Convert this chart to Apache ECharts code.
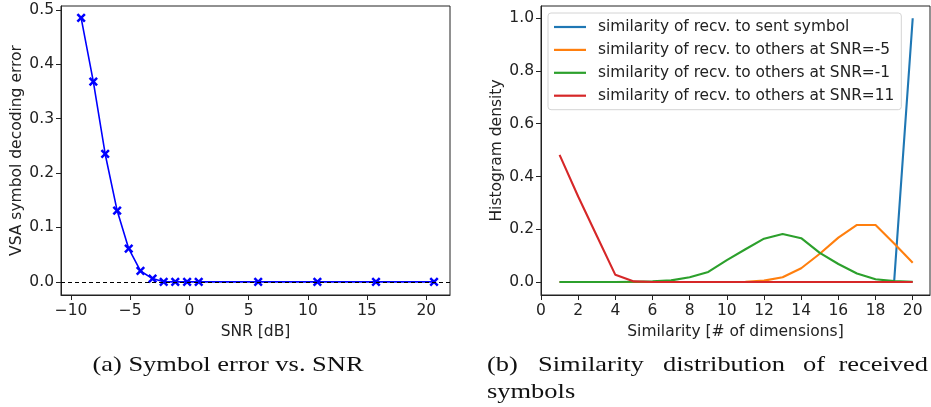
<!DOCTYPE html>
<html>
<head>
<meta charset="utf-8">
<script src="https://cdn.jsdelivr.net/npm/echarts@6/dist/echarts.min.js"></script>
<style>
  html, body { margin: 0; padding: 0; background: #fff; }
  #chart { width: 931px; height: 407px; }
</style>
</head>
<body>
<div id="chart"></div>
<script>
// (a) symbol decoding error against SNR
var snrDb = [-9.15, -8.12, -7.12, -6.11, -5.13, -4.14, -3.12, -2.18, -1.2, -0.2, 0.78, 5.8, 10.8, 15.75, 20.65];
var symbolError = [0.485, 0.368, 0.235, 0.131, 0.061, 0.020, 0.006, 0, 0, 0, 0, 0, 0, 0, 0];
var snrTicks = [-10, -5, 0, 5, 10, 15, 20];
var errorTicks = [0, 0.1, 0.2, 0.3, 0.4, 0.5];

// (b) similarity histograms
var similarityDims = [1, 2, 3, 4, 5, 6, 7, 8, 9, 10, 11, 12, 13, 14, 15, 16, 17, 18, 19, 20];
var sentSymbol = [0, 0, 0, 0, 0, 0, 0, 0, 0, 0, 0, 0, 0, 0, 0, 0, 0, 0, 0, 1.0];
var othersSnrM5 = [0, 0, 0, 0, 0, 0, 0, 0, 0, 0, 0.001, 0.005, 0.018, 0.052, 0.107, 0.168, 0.216, 0.216, 0.146, 0.073];
var othersSnrM1 = [0, 0, 0, 0, 0.001, 0.002, 0.006, 0.018, 0.038, 0.083, 0.124, 0.164, 0.182, 0.166, 0.110, 0.068, 0.032, 0.010, 0.003, 0.001];
var othersSnr11 = [0.482, 0.324, 0.175, 0.027, 0.002, 0, 0, 0, 0, 0, 0, 0, 0, 0, 0, 0, 0, 0, 0, 0];
var seriesNames = [
  "similarity of recv. to sent symbol",
  "similarity of recv. to others at SNR=-5",
  "similarity of recv. to others at SNR=-1",
  "similarity of recv. to others at SNR=11"
];
var similarityTicks = [0, 2, 4, 6, 8, 10, 12, 14, 16, 18, 20];
var densityTicks = [0, 0.2, 0.4, 0.6, 0.8, 1.0];

// caption words, (b) is justified in the source so each word gets its own slot
var captionA = "(a) Symbol error vs. SNR";
var captionBLine1 = ["(b)", "Similarity", "distribution", "of", "received"];
var captionBLine1X = [487, 538, 663, 803, 928];
var captionBLine1Align = ["left", "left", "left", "left", "right"];
var captionBLine2 = "symbols";

var FONT = "DejaVu Sans";
var SERIF = "21px Liberation Serif";
var SERIF_SCALE = 1.26;
var INK = "#222";

function pairs(xs, ys) {
  return xs.map(function (x, i) { return [x, ys[i]]; });
}

function minusSign(v) {
  return v < 0 ? "\u2212" + Math.abs(v) : String(v);
}

function valueAxis(opts) {
  return Object.assign({
    type: "value",
    splitLine: { show: false },
    axisLine: { show: true, onZero: false, lineStyle: { color: INK, width: 1 } },
    nameLocation: "middle",
    nameTextStyle: { fontFamily: FONT, fontSize: 15.5, color: INK }
  }, opts);
}

function ticks(values) {
  return { show: true, inside: false, length: 5, lineStyle: { color: INK }, customValues: values };
}

function captionText(text, x, y, align) {
  return {
    type: "text", x: x, y: y, scaleX: SERIF_SCALE,
    style: { text: text, font: SERIF, fill: "#111", align: align || "left", verticalAlign: "middle" }
  };
}

var chart = echarts.init(document.getElementById("chart"));

var tab = ["#1f77b4", "#ff7f0e", "#2ca02c", "#d62728"];
var histSeries = [sentSymbol, othersSnrM5, othersSnrM1, othersSnr11].map(function (vals, i) {
  return {
    name: seriesNames[i],
    type: "line",
    xAxisIndex: 1,
    yAxisIndex: 1,
    data: pairs(similarityDims, vals),
    symbol: "none",
    lineStyle: { color: tab[i], width: 2.1 },
    itemStyle: { color: tab[i] }
  };
});

var graphics = [captionText(captionA, 228, 365, "center")];
captionBLine1.forEach(function (w, i) {
  graphics.push(captionText(w, captionBLine1X[i], 365, captionBLine1Align[i]));
});
graphics.push(captionText(captionBLine2, 487, 392));

chart.setOption({
  animation: false,
  grid: [
    { left: 61, top: 6, width: 389, height: 289, show: true, borderColor: INK, borderWidth: 1 },
    { left: 541, top: 6, width: 389, height: 289, show: true, borderColor: INK, borderWidth: 1 }
  ],
  xAxis: [
    valueAxis({
      gridIndex: 0, min: -10.85, max: 22.0,
      name: "SNR [dB]", nameGap: 24,
      axisTick: ticks(snrTicks),
      axisLabel: { customValues: snrTicks, formatter: minusSign, margin: 8,
        fontFamily: FONT, fontSize: 15.5, color: INK }
    }),
    valueAxis({
      gridIndex: 1, min: 0, max: 20.93,
      name: "Similarity [# of dimensions]", nameGap: 24,
      axisTick: ticks(similarityTicks),
      axisLabel: { customValues: similarityTicks, margin: 8,
        fontFamily: FONT, fontSize: 15.5, color: INK }
    })
  ],
  yAxis: [
    valueAxis({
      gridIndex: 0, min: -0.0242, max: 0.507,
      name: "VSA symbol decoding error", nameGap: 35,
      axisTick: ticks(errorTicks),
      axisLabel: { customValues: errorTicks, formatter: function (v) { return v.toFixed(1); },
        margin: 7, fontFamily: FONT, fontSize: 15.5, color: INK }
    }),
    valueAxis({
      gridIndex: 1, min: -0.0495, max: 1.0465,
      name: "Histogram density", nameGap: 35,
      axisTick: ticks(densityTicks),
      axisLabel: { customValues: densityTicks, formatter: function (v) { return v.toFixed(1); },
        margin: 7, fontFamily: FONT, fontSize: 15.5, color: INK }
    })
  ],
  legend: {
    data: seriesNames,
    orient: "vertical",
    left: 548,
    top: 13,
    padding: [6, 7, 6, 6],
    itemGap: 6.9,
    itemWidth: 32,
    itemHeight: 2.2,
    icon: "rect",
    backgroundColor: "rgba(255,255,255,0.8)",
    borderColor: "#d4d4d4",
    borderWidth: 1,
    borderRadius: 3,
    textStyle: { fontFamily: FONT, fontSize: 15.4, lineHeight: 16, color: INK, padding: [0, 0, 0, 7] }
  },
  series: [
    {
      type: "line",
      xAxisIndex: 0,
      yAxisIndex: 0,
      data: [],
      markLine: {
        silent: true,
        symbol: "none",
        label: { show: false },
        lineStyle: { color: "#000", type: [4, 3], width: 1 },
        data: [{ yAxis: 0 }]
      }
    },
    {
      name: "symbol error",
      type: "line",
      xAxisIndex: 0,
      yAxisIndex: 0,
      data: pairs(snrDb, symbolError),
      symbol: "path://M0,0L10,10M10,0L0,10",
      symbolSize: 7.5,
      showAllSymbol: true,
      lineStyle: { color: "#0000ff", width: 1.6 },
      itemStyle: { color: "#0000ff", borderColor: "#0000ff", borderWidth: 2.5 }
    }
  ].concat(histSeries),
  graphic: graphics
});
</script>
</body>
</html>
